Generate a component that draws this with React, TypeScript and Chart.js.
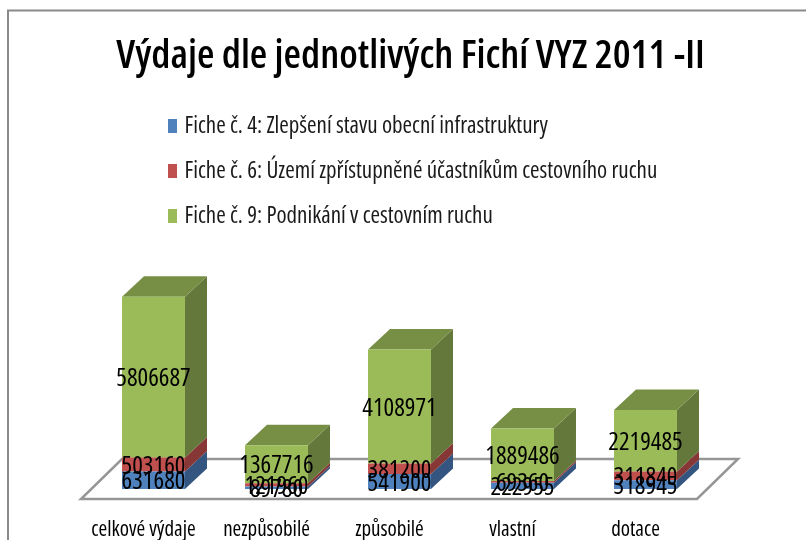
import React, { useEffect, useRef } from "react";
import { Chart, registerables } from "chart.js";

Chart.register(...registerables);

const chartTitle = "Výdaje dle jednotlivých Fichí VYZ 2011 -II";
const categories = ["celkové výdaje", "nezpůsobilé", "způsobilé", "vlastní", "dotace"];
const seriesNames = [
  "Fiche č. 4: Zlepšení stavu obecní infrastruktury",
  "Fiche č. 6: Území zpřístupněné účastníkům cestovního ruchu",
  "Fiche č. 9: Podnikání v cestovním ruchu",
];
const fiche4 = [631680, 89780, 541900, 222955, 318945];
const fiche6 = [503160, 121960, 381200, 69360, 311840];
const fiche9 = [5806687, 1367716, 4108971, 1889486, 2219485];

const FONT = '"Open Sans", sans-serif';
const front = ["#4F81BD", "#C0504D", "#9BBB59"];
const side = ["#34557F", "#873836", "#64783C"];
const topFace = ["#416A9C", "#9E4240", "#778F45"];
const DX = 22;
const DY = 20.5;

const bars3d = {
  id: "bars3d",
  afterLayout(chart: any) {
    if (chart.titleBlock) {
      chart.titleBlock.left += 11;
      chart.titleBlock.right += 11;
    }
    if (chart.legend) {
      const p = chart.legend.options.labels.padding;
      chart.legend.left = 172 - p;
      chart.legend.top = 114.5 - p;
    }
  },
  beforeDraw(chart: any) {
    const { ctx } = chart;
    ctx.save();
    ctx.strokeStyle = "#8A8A8A";
    ctx.lineWidth = 2;
    ctx.beginPath();
    ctx.moveTo(8, 540);
    ctx.lineTo(8, 10.5);
    ctx.lineTo(806, 10.5);
    ctx.stroke();
    ctx.restore();
  },
  beforeDatasetsDraw(chart: any) {
    const { ctx, chartArea: a, scales } = chart;
    const base = scales.y.getPixelForValue(0);
    ctx.save();
    ctx.strokeStyle = "#969696";
    ctx.fillStyle = "#FFFFFF";
    ctx.lineWidth = 2.5;
    ctx.lineJoin = "miter";
    ctx.beginPath();
    ctx.moveTo(a.left - 11, base + 10);
    ctx.lineTo(a.right - 10, base + 10);
    ctx.lineTo(a.right + 31, base - 30);
    ctx.lineTo(a.left + 30, base - 30);
    ctx.closePath();
    ctx.fill();
    ctx.stroke();

    chart.data.datasets.forEach((_: any, d: number) => {
      chart.getDatasetMeta(d).data.forEach((bar: any) => {
        const { x, y, base: b, width } = bar.getProps(["x", "y", "base", "width"], true);
        const r = x + width / 2;
        const l = x - width / 2;
        ctx.fillStyle = side[d];
        ctx.beginPath();
        ctx.moveTo(r, b);
        ctx.lineTo(r + DX, b - DY);
        ctx.lineTo(r + DX, y - DY);
        ctx.lineTo(r, y);
        ctx.closePath();
        ctx.fill();
        if (d === chart.data.datasets.length - 1) {
          ctx.fillStyle = topFace[d];
          ctx.beginPath();
          ctx.moveTo(l, y);
          ctx.lineTo(l + DX, y - DY);
          ctx.lineTo(r + DX, y - DY);
          ctx.lineTo(r, y);
          ctx.closePath();
          ctx.fill();
        }
      });
    });
    ctx.restore();
  },
  afterDatasetsDraw(chart: any) {
    const { ctx } = chart;
    ctx.save();
    ctx.fillStyle = "#000000";
    ctx.font = `condensed 25px ${FONT}`;
    ctx.textAlign = "center";
    ctx.textBaseline = "middle";
    chart.data.datasets.forEach((ds: any, d: number) => {
      chart.getDatasetMeta(d).data.forEach((bar: any, i: number) => {
        const { x, y, base: b } = bar.getProps(["x", "y", "base"], true);
        ctx.fillText(String(ds.data[i]), x, (y + b) / 2 + 2);
      });
    });
    ctx.restore();
  },
};

export default function App() {
  const ref = useRef<HTMLCanvasElement>(null);
  useEffect(() => {
    const chart = new Chart(ref.current as HTMLCanvasElement, {
      type: "bar",
      data: {
        labels: categories,
        datasets: [fiche4, fiche6, fiche9].map((data, i) => ({
          label: seriesNames[i],
          data,
          backgroundColor: front[i],
          borderWidth: 0,
        })),
      },
      options: {
        responsive: false,
        animation: false,
        events: [],
        categoryPercentage: 1,
        barPercentage: 0.512,
        layout: { padding: { left: 92, right: 99, top: 0, bottom: 0 } },
        plugins: {
          title: {
            display: true,
            text: chartTitle,
            color: "#000000",
            font: { family: FONT, size: 40, weight: "condensed 600" },
            padding: { top: 33, bottom: 34 },
          },
          legend: {
            display: true,
            position: "chartArea",
            align: "start",
            labels: {
              color: "#1A1A1A",
              font: { family: FONT, size: 23, weight: "condensed" },
              boxWidth: 1,
              boxHeight: 6,
              padding: 22,
              generateLabels(chart: any) {
                return Chart.defaults.plugins.legend.labels.generateLabels(chart).map((item: any) => ({
                  ...item,
                  lineWidth: 8,
                  strokeStyle: item.fillStyle,
                }));
              },
            },
          },
          tooltip: { enabled: false },
        },
        scales: {
          x: {
            stacked: true,
            border: { display: false },
            grid: { display: false, drawTicks: false },
            afterFit(scale: any) {
              scale.height = 51;
            },
            ticks: {
              color: "#000000",
              font: { family: FONT, size: 21, weight: "condensed" },
              padding: 28,
              labelOffset: -10,
              maxRotation: 0,
              autoSkip: false,
            },
          },
          y: { stacked: true, display: false, min: 0, max: 13500000 },
        },
      },
      plugins: [bars3d],
    } as any);
    return () => chart.destroy();
  }, []);
  return (
    <div style={{ position: "fixed", left: 0, top: 0, width: 806, height: 540, background: "#fff" }}>
      <canvas ref={ref} width={806} height={540} style={{ display: "block" }} />
    </div>
  );
}
